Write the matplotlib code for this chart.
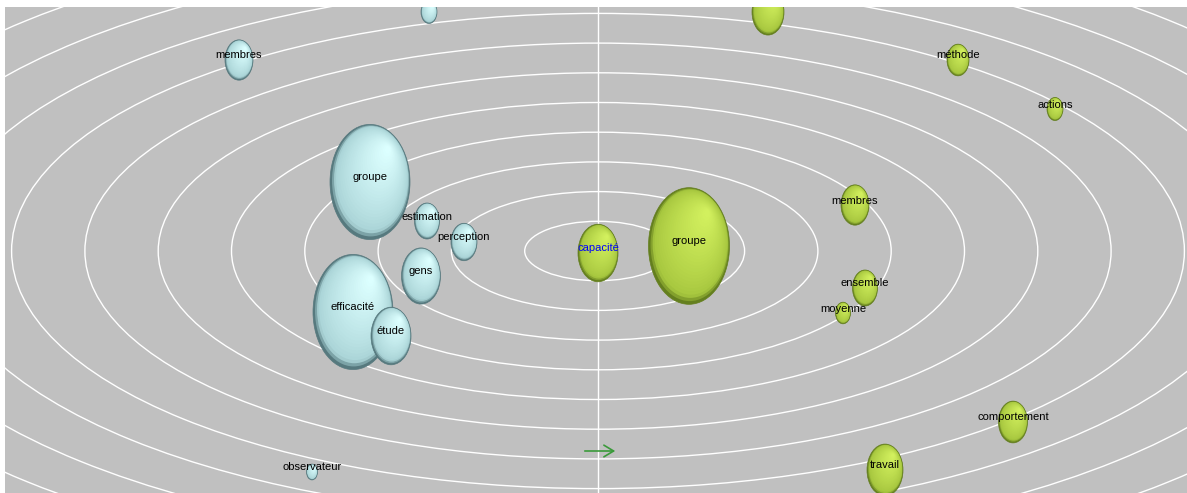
import numpy as np
import matplotlib
matplotlib.use("Agg")
import matplotlib.pyplot as plt
from matplotlib.patches import Ellipse

# ---- data (coordinates relative to chart centre, y up) ----
blue_words = ["", "membres", "groupe", "estimation", "perception", "gens",
              "efficacité", "étude", "observateur"]
blue_x = [-169, -359, -228, -171, -134, -177, -245, -207, -286]
blue_y = [239, 191, 69, 30, 9, -25, -61, -85, -221]
blue_size = [16, 28, 80, 25, 26, 39, 80, 40, 11]

green_words = ["", "capacité", "groupe", "méthode", "actions", "membres",
               "ensemble", "moyenne", "comportement", "travail"]
green_x = [170, 0, 91, 360, 457, 257, 267, 245, 415, 287]
green_y = [239, -2, 5, 191, 142, 46, -37, -62, -171, -219]
green_size = [32, 40, 81, 22, 16, 28, 25, 15, 29, 36]

rings = list(range(1, 13))
arrow_x = [-16, 20]
arrow_y = [-200, -200]

# ---- styling ----
W, H = 1187, 493
fig = plt.figure(figsize=(W / 100, H / 100), dpi=100)
fig.patch.set_facecolor("white")
ax = fig.add_axes([5 / W, 0, 1182 / W, 486 / H])
ax.set_facecolor("#c0c0c0")
ax.set_xlim(-593, 589)
ax.set_ylim(-242, 244)
ax.set_xticks([])
ax.set_yticks([])
for s in ax.spines.values():
    s.set_visible(False)

A_STEP, B_STEP = 73.3, 29.7
for n in rings:
    ax.add_patch(Ellipse((0, 0), 2 * A_STEP * n, 2 * B_STEP * n, fill=False,
                         edgecolor="white", lw=1.0, zorder=1))
ax.axvline(0, color="white", lw=1.0, zorder=1)


def lerp(c1, c2, t):
    c1 = np.array(matplotlib.colors.to_rgb(c1))
    c2 = np.array(matplotlib.colors.to_rgb(c2))
    return tuple(c1 + (c2 - c1) * t)


def sphere(x, y, w, rim, mid, hl, z):
    h = w * 1.44
    n = 28
    off = np.array([0.22 * w, 0.28 * h])
    for i in range(n):
        t = i / (n - 1)
        s = 1 - 0.93 * t
        cx, cy = np.array([x, y]) + off * t
        if t < 0.08:
            col = lerp(rim, mid, t / 0.08)
        else:
            col = lerp(mid, hl, ((t - 0.08) / 0.92) ** 0.8)
        ax.add_patch(Ellipse((cx, cy), w * s, h * s, facecolor=col,
                             edgecolor="none", zorder=z))
    ax.add_patch(Ellipse((x, y), w, h, fill=False, edgecolor=rim, lw=0.5,
                         zorder=z))


z = 2
for x, y, w in zip(blue_x, blue_y, blue_size):
    sphere(x, y, w, "#56797e", "#a9d3d6", "#dcffff", z)
    z += 1
for x, y, w in zip(green_x, green_y, green_size):
    sphere(x, y, w, "#647f1e", "#a6c63e", "#d2f05e", z)
    z += 1

font, fs = ["Liberation Sans", "DejaVu Sans"], 8.0

for x, y, t in zip(blue_x, blue_y, blue_words):
    if t:
        ax.text(x, y + 4.5, t, ha="center", va="center", fontsize=fs,
                family=font, color="black", zorder=100)
for x, y, t in zip(green_x, green_y, green_words):
    if t:
        ax.text(x, y + 4.5, t, ha="center", va="center", fontsize=fs,
                family=font, color="#0000ff" if t == "capacité" else "black",
                zorder=100)

ax.annotate("", xy=(arrow_x[1], arrow_y[1]), xytext=(arrow_x[0], arrow_y[0]),
            arrowprops=dict(arrowstyle="->,head_length=0.5,head_width=0.3",
                            color="#3a9a3a", lw=1.2, mutation_scale=14),
            zorder=50)

fig.savefig("out.png", dpi=100)
